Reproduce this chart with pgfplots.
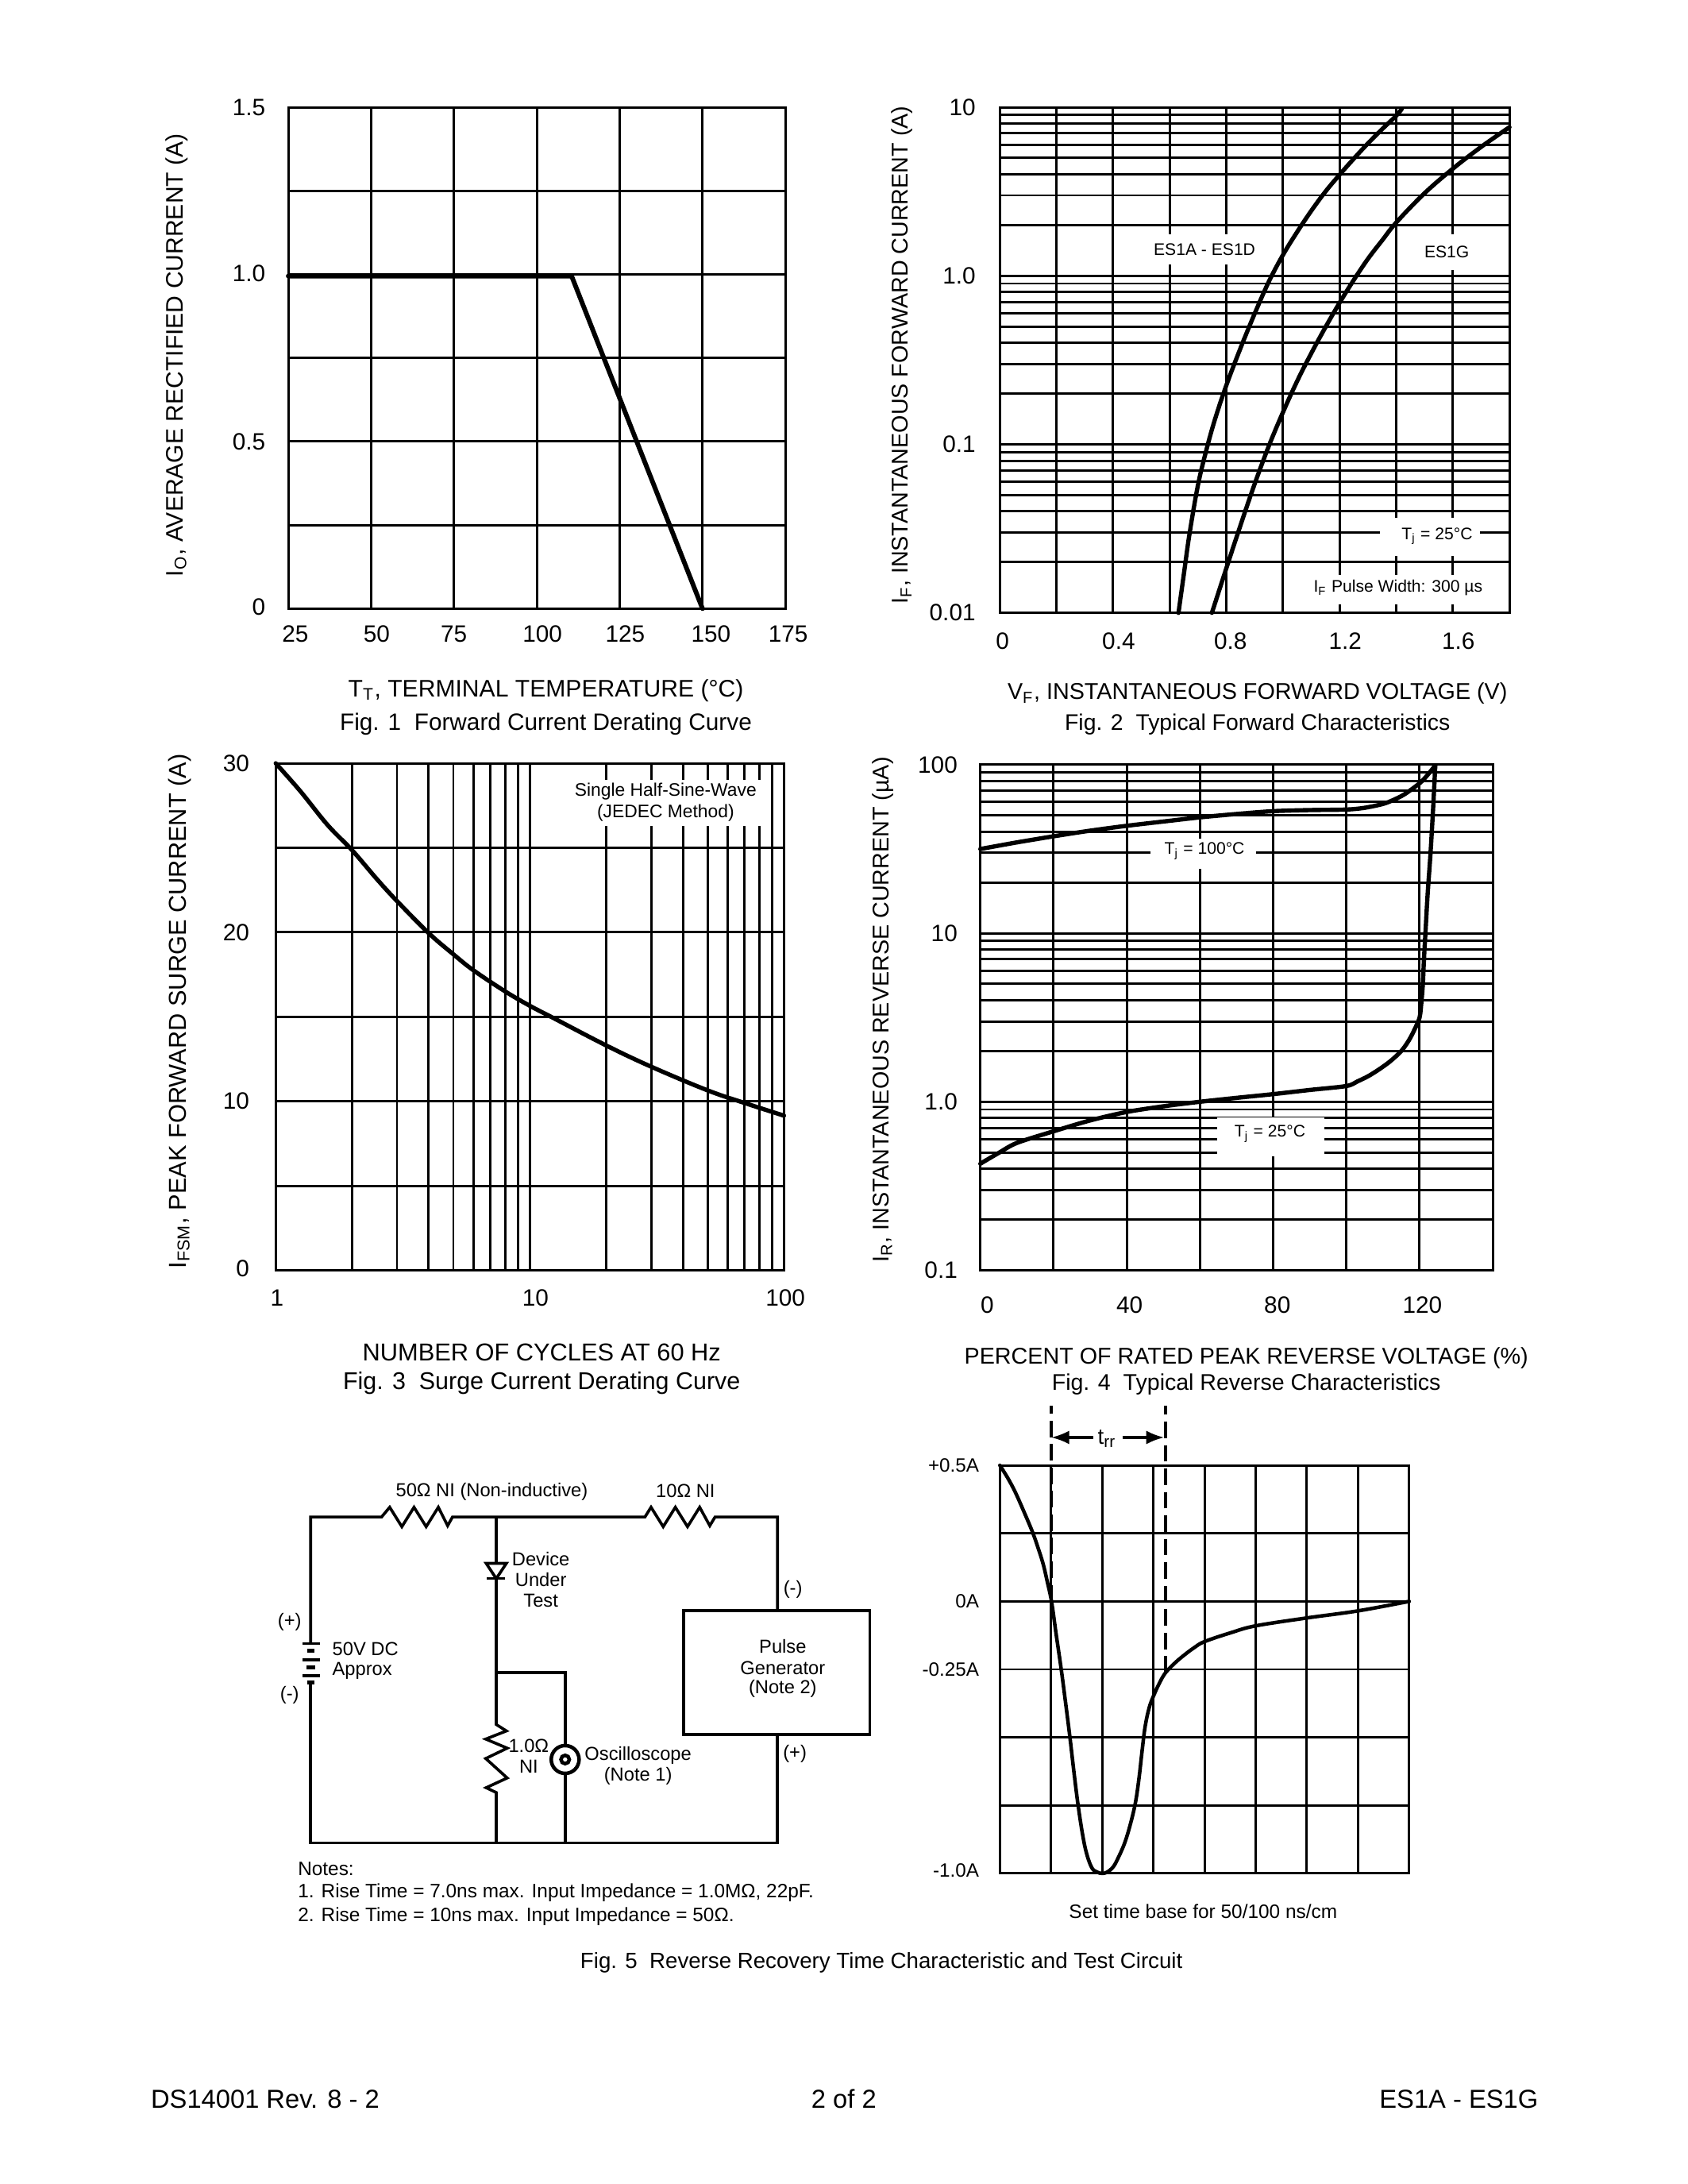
\documentclass[border=0pt]{standalone}
\usepackage{fontspec}
\setmainfont{Liberation Sans}
\usepackage{pgfplots}
\pgfplotsset{compat=1.18}
\usetikzlibrary{arrows.meta}
\newlength\U \setlength\U{0.50495bp}
\newcommand\xs[2]{\makebox[0pt][c]{\hspace*{2\dimexpr#1\U\relax}#2}}
\newcommand\up[2]{\raisebox{#1\U}{#2}}
\newcommand\fz[1]{\fontsize{#1}{#1}\selectfont}
\newcommand\fa{\fz{8.6}}
\newcommand\fd{\fz{6.6}}
\newcommand\fe{\fz{6.1}}
\newcommand\ff{\fz{7.0}}
\newcommand\PP[2]{(rel axis cs:{(#1-\AL)/(\AR-\AL)},{(\AB-#2)/(\AB-\AT)})}
\newcommand\setax[4]{\def\AL{#1}\def\AR{#2}\def\AT{#3}\def\AB{#4}}
\newcommand\WB[4]{\fill[white] \PP{#1}{#2} rectangle \PP{#3}{#4};}
\pgfplotsset{
  sheet/.style={
    scale only axis, anchor=south west, clip=false,
    axis line style={line width=0.85bp,black},
    major tick length=0pt, minor tick length=0pt,
    tick style={draw=none},
    xmajorgrids=true, ymajorgrids=true,
    grid style={draw=black,line width=0.85bp},
    minor grid style={draw=black,line width=0.85bp},
    tick label style={font=\fa},
    scaled ticks=false,
  },
  curve/.style={black,line width=1.55bp,no markers,line join=round,line cap=round},
  thin curve/.style={curve,line width=1.3bp},
}
\begin{document}
\begin{tikzpicture}
\path[use as bounding box] (0,0) rectangle (1212\U,-1568\U);

% ---------- Fig 1
\setax{207}{564}{77}{437}
\begin{axis}[sheet, at={(207\U,-437\U)}, width=357\U, height=360\U,
  label style={font=\fz{8.7}},
  xmin=25,xmax=175,ymin=0,ymax=1.5,
  xtick={25,50,75,100,125,150,175},
  xticklabels={\xs{5}{25},\xs{4}{50},\xs{0}{75},\xs{4}{100},\xs{4}{125},\xs{6}{150},\xs{2}{175}},
  ytick={0,0.25,0.5,0.75,1,1.25,1.5},
  yticklabels={\up{3}{0},,0.5,,\up{2}{1.0},,\up{-1}{1.5}},
  xticklabel style={anchor=center,yshift=-18\U},
  yticklabel style={anchor=east,xshift=-9.5\U},
  xlabel={T\textsubscript{T}, TERMINAL TEMPERATURE (°C)},
  ylabel={I\textsubscript{O}, AVERAGE RECTIFIED CURRENT (A)},
  xlabel style={at={(axis description cs:{(392-207)/357},{(437-496)/360})},anchor=center},
  ylabel style={at={(axis description cs:{(127-207)/357},{(437-255)/360})},anchor=center},
]
\addplot[curve,line width=1.7bp] coordinates {(25,0.995)(110.5,0.995)(150,0)};
\end{axis}
\node[font=\fz{8.6}] at (392\U,-520\U) {Fig. 1\ \ Forward Current Derating Curve};

% ---------- Fig 2
\setax{718}{1084}{77}{440}
\begin{axis}[sheet, ymode=log, at={(718\U,-440\U)}, width=366\U, height=363\U,
  label style={font=\fz{8.3}},
  xmin=0,xmax=1.8,ymin=0.01,ymax=10,
  xtick={0,0.2,0.4,0.6,0.8,1.0,1.2,1.4,1.6,1.8},
  xticklabels={\xs{2}{0},,\xs{4}{0.4},,\xs{3}{0.8},,\xs{4}{1.2},,\xs{4}{1.6},},
  ytick={0.01,0.1,1,10},
  yticklabels={0.01,0.1,1.0,10},
  yminorgrids=true,
  xticklabel style={anchor=center,yshift=-20\U},
  yticklabel style={anchor=east,xshift=-10.5\U},
  xlabel={V\textsubscript{F}, INSTANTANEOUS FORWARD VOLTAGE (V)},
  ylabel={I\textsubscript{F}, INSTANTANEOUS FORWARD CURRENT (A)},
  xlabel style={at={(axis description cs:{(903-718)/366},{(440-498)/363})},anchor=center},
  ylabel style={at={(axis description cs:{(648-718)/366},{(440-255)/363})},anchor=center},
]
\WB{818}{168}{913}{190}
\WB{1019}{168}{1075}{194}
\WB{991}{372}{1063}{399}
\WB{935}{413}{1075}{434}
\node[font=\fe] at \PP{865}{179} {ES1A - ES1D};
\node[font=\fe] at \PP{1039}{181} {ES1G};
\node[font=\fe] at \PP{1032}{385} {T\textsubscript{j} = 25°C};
\node[font=\fe] at \PP{1004}{422} {I\textsubscript{F} Pulse Width: 300 µs};
\addplot[curve,smooth,tension=0.6] coordinates {(0.631,0.01)(0.65,0.017)(0.67,0.0295)(0.70,0.0575)(0.73,0.0933)(0.76,0.141)(0.80,0.224)(0.85,0.372)(0.90,0.596)(0.95,0.923)(1.0,1.33)(1.05,1.82)(1.10,2.43)(1.15,3.16)(1.20,3.98)(1.25,4.95)(1.30,6.1)(1.35,7.41)(1.40,8.91)(1.42,9.8)};
\addplot[curve,smooth,tension=0.6] coordinates {(0.749,0.01)(0.80,0.0184)(0.85,0.0331)(0.90,0.0582)(0.95,0.0977)(1.0,0.155)(1.05,0.237)(1.1,0.347)(1.15,0.495)(1.2,0.692)(1.25,0.944)(1.3,1.26)(1.35,1.62)(1.4,2.07)(1.5,3.09)(1.6,4.32)(1.7,5.82)(1.8,7.62)};
\end{axis}
\node[font=\fz{8.2}] at (903\U,-520\U) {Fig. 2\ \ Typical Forward Characteristics};

% ---------- Fig 3
\setax{198}{563}{548}{912}
\begin{axis}[sheet, xmode=log, at={(198\U,-912\U)}, width=365\U, height=364\U,
  label style={font=\fz{8.9}},
  xmin=1,xmax=100,ymin=0,ymax=30,
  xtick={1,10,100},
  xticklabels={\xs{1}{1},\xs{4}{10},\xs{1}{100}},
  ytick={0,5,10,15,20,25,30},
  yticklabels={\up{3}{0},,\up{-2}{10},,20,,\up{-3}{30}},
  xminorgrids=true,
  xticklabel style={anchor=center,yshift=-20\U},
  yticklabel style={anchor=east,xshift=-12\U},
  xlabel={NUMBER OF CYCLES AT 60 Hz},
  ylabel={I\textsubscript{FSM}, PEAK FORWARD SURGE CURRENT (A)},
  xlabel style={at={(axis description cs:{(389-198)/365},{(912-971)/364})},anchor=center},
  ylabel style={at={(axis description cs:{(129-198)/365},{(912-726)/364})},anchor=center},
]
\WB{406}{560}{553}{593}
\node[font=\fd,align=center] at \PP{478}{576} {Single Half-Sine-Wave\\[1pt](JEDEC Method)};
\addplot[curve,smooth,tension=0.6] coordinates {(1,30)(1.25,28.35)(1.6,26.35)(2,24.85)(2.5,23.15)(3,21.85)(4,19.95)(5,18.7)(6,17.75)(8,16.5)(10,15.65)(12.3,14.95)(20,13.3)(30,12.05)(50,10.65)(70,9.9)(100,9.15)};
\end{axis}
\node[font=\fz{8.8}] at (389\U,-993\U) {Fig. 3\ \ Surge Current Derating Curve};

% ---------- Fig 4
\setax{704}{1072}{549}{912}
\begin{axis}[sheet, ymode=log, at={(704\U,-912\U)}, width=368\U, height=363\U,
  label style={font=\fz{8.3}},
  xmin=0,xmax=140,ymin=0.1,ymax=100,
  xtick={0,20,40,60,80,100,120,140},
  xticklabels={\xs{5}{0},,\xs{2}{40},,\xs{3}{80},,\xs{2}{120},},
  ytick={0.1,1,10,100},
  yticklabels={0.1,\up{-3}{1.0},\up{-2}{10},\up{-3}{100}},
  yminorgrids=true,
  xticklabel style={anchor=center,yshift=-25\U},
  yticklabel style={anchor=east,xshift=-9.5\U},
  xlabel={PERCENT OF RATED PEAK REVERSE VOLTAGE (\%)},
  ylabel={I\textsubscript{R}, INSTANTANEOUS REVERSE CURRENT (µA)},
  xlabel style={at={(axis description cs:{(895-704)/368},{(912-975)/363})},anchor=center},
  ylabel style={at={(axis description cs:{(634-704)/368},{(912-725)/363})},anchor=center},
]
\WB{826}{602}{902}{624}
\WB{874}{802}{951}{830}
\node[font=\fe] at \PP{865}{611} {T\textsubscript{j} = 100°C};
\node[font=\fe] at \PP{912}{814} {T\textsubscript{j} = 25°C};
\addplot[curve,smooth,tension=0.5] coordinates {(0,31.6)(10,34.6)(20,37.6)(30,40.6)(40,43.4)(50,46)(60,48.7)(70,51)(80,53)(90,53.8)(100,54.2)(105,55.5)(110,58.5)(113,62)(116,67)(120,77.6)(122,86)(124.3,99)};
\addplot[curve,smooth,tension=0.5] coordinates {(0,0.429)(5,0.497)(10,0.57)(20,0.668)(30,0.775)(40,0.87)(50,0.94)(60,1.0)(70,1.055)(80,1.11)(90,1.175)(100,1.24)(103,1.32)(106,1.42)(109,1.56)(112,1.74)(115,2.0)(117,2.3)(118.5,2.65)(120,3.16)(120.5,3.9)(120.9,5)(121.2,7)(121.6,10)(122.2,17)(123,30)(123.7,55)(124.3,99)};
\end{axis}
\node[font=\fz{8.25}] at (895\U,-994\U) {Fig. 4\ \ Typical Reverse Characteristics};

% ---------- Fig 5 waveform
\setax{718}{1012}{1052}{1345}
\begin{axis}[sheet, at={(718\U,-1345\U)}, width=294\U, height=293\U,
  xmin=0,xmax=8,ymin=-1,ymax=0.5,
  xtick={0,1,2,3,4,5,6,7,8},
  xticklabels={},
  ytick={-1,-0.75,-0.5,-0.25,0,0.25,0.5},
  yticklabels={\up{4}{-1.0A},,,-0.25A,0A,,+0.5A},
  yticklabel style={anchor=east,xshift=-8\U,font=\ff},
]
\addplot[black,line width=1.1bp,dash pattern=on 6bp off 2.5bp,no markers] coordinates {(1,0)(1,0.72)};
\addplot[black,line width=1.1bp,dash pattern=on 6bp off 2.5bp,no markers] coordinates {(3.24,-0.262)(3.24,0.72)};
\draw[line width=0.9bp,-{Latex[length=6.5bp,width=5bp]}] \PP{785}{1032} -- \PP{755}{1032};
\draw[line width=0.9bp,-{Latex[length=6.5bp,width=5bp]}] \PP{806}{1032} -- \PP{836}{1032};
\node[font=\fz{8}] at \PP{795}{1033} {t\textsubscript{rr}};
\node[font=\fz{7.05}] at \PP{864}{1372} {Set time base for 50/100 ns/cm};
\addplot[thin curve,smooth,tension=0.6] coordinates {(0,0.5)(0.15,0.455)(0.3,0.402)(0.47,0.33)(0.64,0.254)(0.75,0.195)(0.85,0.135)(0.93,0.07)(1.01,0)(1.1,-0.12)(1.2,-0.25)(1.29,-0.38)(1.37,-0.5)(1.45,-0.63)(1.53,-0.75)(1.62,-0.86)(1.7,-0.93)(1.8,-0.98)(1.9,-0.995)(2,-1)(2.1,-0.995)(2.22,-0.975)(2.32,-0.94)(2.44,-0.888)(2.55,-0.82)(2.65,-0.74)(2.72,-0.65)(2.78,-0.55)(2.84,-0.46)(2.92,-0.39)(3.01,-0.345)(3.12,-0.30)(3.24,-0.262)(3.43,-0.225)(3.62,-0.195)(3.8,-0.17)(4,-0.148)(4.52,-0.115)(5,-0.09)(6,-0.061)(7,-0.035)(8,0)};
\end{axis}

% ---------- Fig 5 circuit
\begin{scope}[shift={(188.2\U,-1043.7\U)},x=0.2910\U,y=-0.2328\U,line width=1.05bp,line join=miter]
\draw (120,585) -- (120,195) -- (295,195) -- (315,165) -- (345,225) -- (375,165) -- (405,225) -- (435,165) -- (458,222) -- (470,195) -- (945,195) -- (960,165) -- (990,225) -- (1020,165) -- (1050,225) -- (1080,165) -- (1105,222) -- (1118,195) -- (1272,195) -- (1272,480);
\draw[line width=1.1bp] (1040,483) rectangle (1500,865);
\draw (1272,865) -- (1272,1200) -- (120,1200) -- (120,705);
\draw (100,585) -- (142,585);
\draw[line width=1.4bp] (112,608) -- (130,608);
\draw (100,635) -- (142,635);
\draw[line width=1.4bp] (110,658) -- (132,658);
\draw (100,685) -- (142,685);
\draw[line width=1.4bp] (112,705) -- (130,705);
\draw (578,195) -- (578,835) -- (603,855) -- (552,880) -- (605,908) -- (552,940) -- (605,1000) -- (553,1030) -- (578,1045) -- (578,1200);
\draw[fill=white] (553,338) -- (603,338) -- (578,385) -- cycle;
\draw (555,385) -- (600,385);
\draw (578,675) -- (748,675) -- (748,1200);
\node[circle,draw,line width=1.3bp,fill=white,minimum size=20\U,inner sep=0pt] at (748,943) {};
\node[circle,draw,line width=1.3bp,fill=white,minimum size=6\U,inner sep=0pt] at (748,943) {};
\tikzset{every node/.style={font=\fz{6.85},inner sep=0pt}}
\node at (567,118) {50Ω NI (Non-inductive)};
\node at (1045,115) {10Ω NI};
\node at (688,325) {Device};
\node at (688,388) {Under};
\node at (688,452) {Test};
\node at (68,518) {(+)};
\node at (68,745) {(-)};
\node[anchor=west] at (170,602) {50V DC};
\node[anchor=west] at (170,670) {Approx};
\node at (1310,418) {(-)};
\node at (1315,925) {(+)};
\node at (1285,595) {Pulse};
\node at (1285,660) {Generator};
\node at (1285,725) {(Note 2)};
\node at (658,900) {1.0Ω};
\node at (658,965) {NI};
\node at (928,930) {Oscilloscope};
\node at (928,993) {(Note 1)};
\node[anchor=west,font=\fz{7.05}] at (85,1280) {Notes:};
\node[anchor=west,font=\fz{7.05}] at (85,1355) {1. Rise Time = 7.0ns max. Input Impedance = 1.0MΩ, 22pF.};
\node[anchor=west,font=\fz{7.05}] at (85,1428) {2. Rise Time = 10ns max. Input Impedance = 50Ω.};
\end{scope}
\node[font=\fz{8.0}] at (633\U,-1409\U) {Fig. 5\ \ Reverse Recovery Time Characteristic and Test Circuit};

% ---------- footer
\node[font=\fz{9.45},anchor=west,inner sep=0pt] at (108\U,-1507\U) {DS14001 Rev. 8 - 2};
\node[font=\fz{9.45},inner sep=0pt] at (606\U,-1507\U) {2 of 2};
\node[font=\fz{9.45},anchor=east,inner sep=0pt] at (1105\U,-1507\U) {ES1A - ES1G};
\end{tikzpicture}
\end{document}
